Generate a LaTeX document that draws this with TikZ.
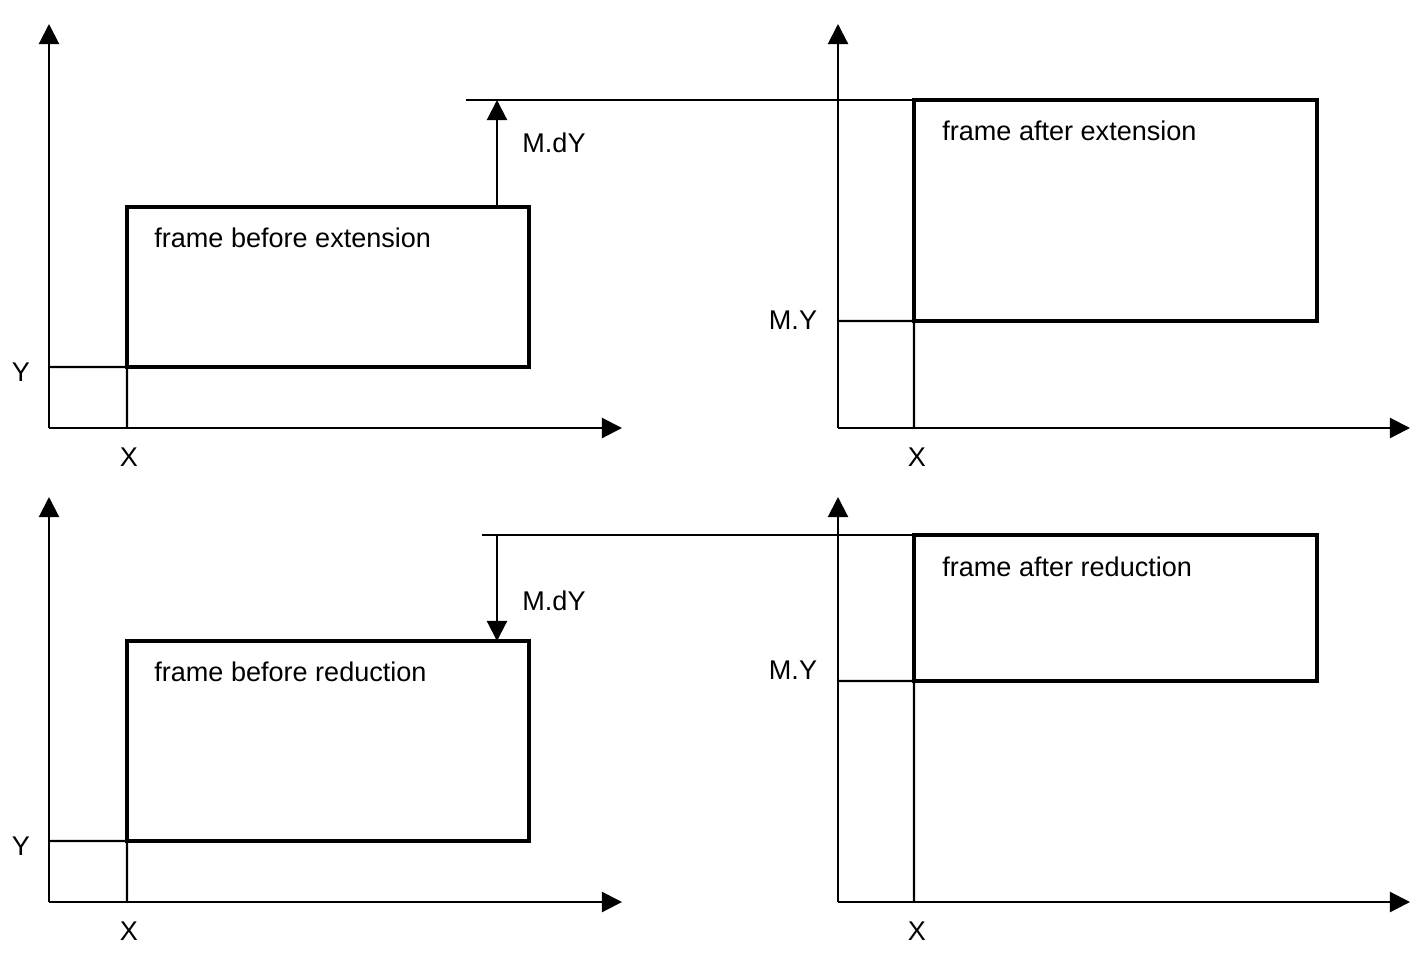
\documentclass[tikz,border=0pt]{standalone}
\usepackage{fontspec}
\setmainfont{Liberation Sans}
\usetikzlibrary{arrows.meta}
\begin{document}
\begin{tikzpicture}[x=0.02cm,y=-0.02cm,
  thinln/.style={line width=1.2pt},
  axis/.style={thinln,-{Triangle[length=11.4pt,width=11.4pt]}},
  lbl/.style={inner sep=0pt,font=\fontsize{15.4}{18}\selectfont},
  frame/.style={draw,line width=2.4pt,inner sep=0pt,outer sep=0pt,anchor=north west}]
\useasboundingbox (0,0) rectangle (1426,964);
% ---------- panel 1 ----------
\coordinate (o1) at (49,428);
\coordinate (ya1) at (49,24);
\coordinate (xa1) at (622,428);
\draw[axis] (o1) -- (ya1);
\draw[axis] (o1) -- (xa1);
\node[frame,minimum width=8.04cm,minimum height=3.2cm] (f1) at (127,207) {};
\coordinate (f1t) at (497,207);
\coordinate (y1) at (49,367);
\coordinate (x1) at (127,428);
\draw[thinln] (y1) -- (f1.south west) -- (x1);
\coordinate (l1a) at (466,100);
\coordinate (l1b) at (914,100);
\draw[thinln] (l1a) -- (l1b);
\coordinate (d1) at (497,100);
\draw[axis] (f1t) -- (d1);
\node[lbl] (ly1) at (21,372) {Y};
\node[lbl] (lx1) at (129,457) {X};
\node[lbl,anchor=west] (t1) at (154,238) {frame before extension};
\node[lbl] (md1) at (554,143) {M.dY};
% ---------- panel 2 ----------
\coordinate (o2) at (838,428);
\coordinate (ya2) at (838,24);
\coordinate (xa2) at (1410,428);
\draw[axis] (o2) -- (ya2);
\draw[axis] (o2) -- (xa2);
\node[frame,minimum width=8.06cm,minimum height=4.42cm] (f2) at (914,100) {};
\coordinate (y2) at (838,321);
\coordinate (x2) at (914,428);
\draw[thinln] (y2) -- (f2.south west) -- (x2);
\node[lbl] (ly2) at (793,320) {M.Y};
\node[lbl] (lx2) at (917,457) {X};
\node[lbl,anchor=west] (t2) at (942,131) {frame after extension};
% ---------- panel 3 ----------
\coordinate (o3) at (49,902);
\coordinate (ya3) at (49,497);
\coordinate (xa3) at (622,902);
\draw[axis] (o3) -- (ya3);
\draw[axis] (o3) -- (xa3);
\node[frame,minimum width=8.04cm,minimum height=4cm] (f3) at (127,641) {};
\coordinate (f3t) at (497,641);
\coordinate (y3) at (49,841);
\coordinate (x3) at (127,902);
\draw[thinln] (y3) -- (f3.south west) -- (x3);
\coordinate (l3a) at (482,535);
\coordinate (l3b) at (914,535);
\draw[thinln] (l3a) -- (l3b);
\coordinate (d3) at (497,535);
\draw[axis] (d3) -- (f3t);
\node[lbl] (ly3) at (21,846) {Y};
\node[lbl] (lx3) at (129,931) {X};
\node[lbl,anchor=west] (t3) at (154,672) {frame before reduction};
\node[lbl] (md3) at (554,601) {M.dY};
% ---------- panel 4 ----------
\coordinate (o4) at (838,902);
\coordinate (ya4) at (838,497);
\coordinate (xa4) at (1410,902);
\draw[axis] (o4) -- (ya4);
\draw[axis] (o4) -- (xa4);
\node[frame,minimum width=8.06cm,minimum height=2.92cm] (f4) at (914,535) {};
\coordinate (y4) at (838,681);
\coordinate (x4) at (914,902);
\draw[thinln] (y4) -- (f4.south west) -- (x4);
\node[lbl] (ly4) at (793,670) {M.Y};
\node[lbl] (lx4) at (917,931) {X};
\node[lbl,anchor=west] (t4) at (942,567) {frame after reduction};
\end{tikzpicture}
\end{document}
